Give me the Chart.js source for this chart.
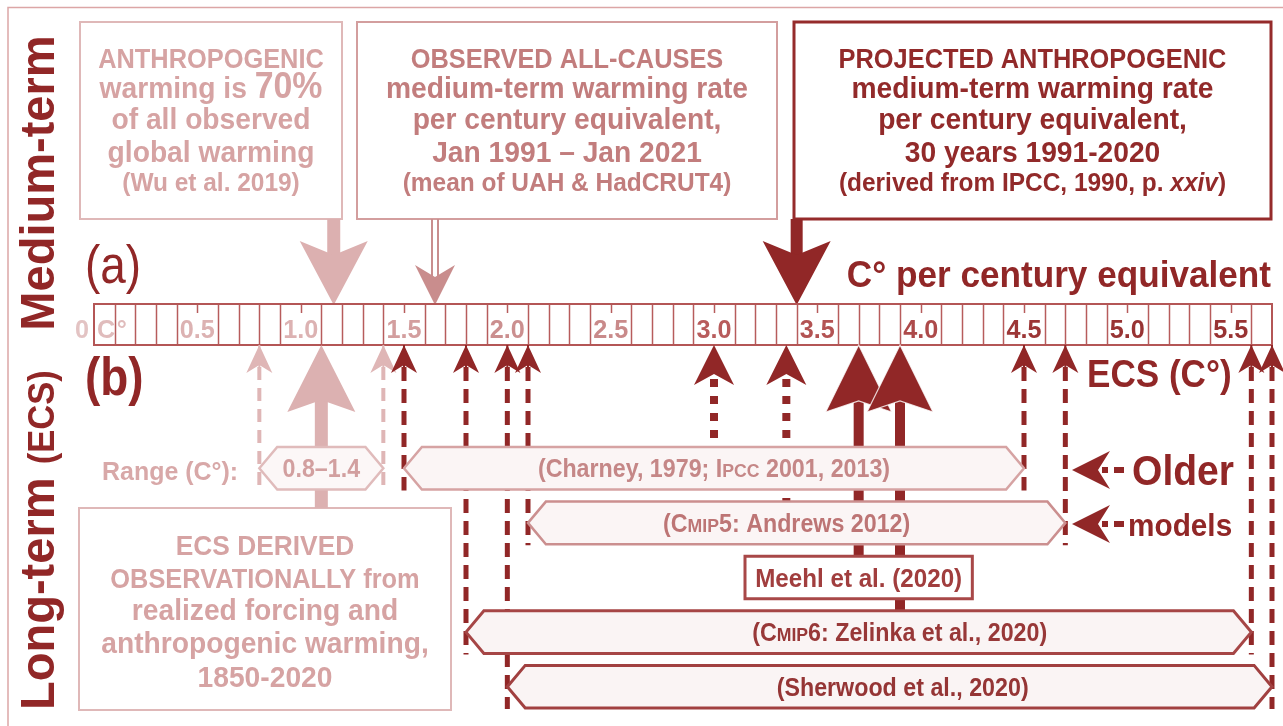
<!DOCTYPE html>
<html>
<head>
<meta charset="utf-8">
<script src="https://cdn.jsdelivr.net/npm/chart.js@4.4.1/dist/chart.umd.min.js"></script>
<style>
  html, body { margin: 0; padding: 0; background: #fff; overflow: hidden; }
  canvas { display: block; }
</style>
</head>
<body>
<canvas id="chart" width="1283" height="726"></canvas>
<script>
// rows of the lower panel (b)
const rows = ['r1', 'r2', 'r3', 'r4', 'r5'];

// ECS ranges (C°)
const rangeLabels = ['0.8–1.4', '(Charney, 1979; IPCC 2001, 2013)', '(CMIP5: Andrews 2012)', 'Meehl et al. (2020)', '(CMIP6: Zelinka et al., 2020)', '(Sherwood et al., 2020)'];
const rangeLow = [0.8, 1.5, 2.1, 3.15, 1.8, 2.0];
const rangeHigh = [1.4, 4.5, 4.7, 4.25, 5.6, 5.7];
const rangeRow = ['r1', 'r1', 'r2', 'r3', 'r4', 'r5'];

// upward arrows under the scale: value, the range they belong to (-1 = observational box), kind
const ecsValues = [0.8, 1.1, 1.4, 1.5, 1.8, 2.0, 2.1, 3.0, 3.35, 3.7, 3.9, 4.5, 4.7, 5.6, 5.7];
const ecsRange = [0, -1, 0, 1, 4, 5, 2, 1, 2, 3, 4, 1, 2, 4, 5];
const ecsKind = ['bound', 'mean', 'bound', 'bound', 'bound', 'bound', 'bound', 'mid', 'mid', 'mean', 'mean', 'bound', 'bound', 'bound', 'bound'];

// medium-term warming rates, C° per century equivalent (panel a)
const rateLabels = ['Anthropogenic (Wu et al. 2019)', 'Observed all-causes', 'Projected (IPCC 1990)'];
const rateValues = [1.16, 1.65, 3.4];

// the ruler
const scaleMax = 5.7;
const tickValues = [0.5, 1.0, 1.5, 2.0, 2.5, 3.0, 3.5, 4.0, 4.5, 5.0, 5.5];
const tickLabels = ['0.5', '1.0', '1.5', '2.0', '2.5', '3.0', '3.5', '4.0', '4.5', '5.0', '5.5'];

// ---- styles / layout ----
const FONT = '"Liberation Sans", Arial, Helvetica, sans-serif';
const DARK = '#912727';
const tickColors = ['#dcb2b2', '#dcb2b2', '#d39e9e', '#cb8f8f', '#c98a8a', '#b85c5c', '#b35353', '#ad4a4a', '#9c3636', '#983333', '#983333'];
const rulerTop = 304, rulerBottom = 345;

const barStyle = [
  { shape: 'hex', stroke: '#e0bbbb', fill: '#fcf7f7', text: '#d29f9f', lw: 2.5, size: 25, shift: 0 },
  { shape: 'hex', stroke: '#d6a3a3', fill: '#fbf5f5', text: '#c58787', lw: 2.5, size: 25, shift: 0 },
  { shape: 'hex', stroke: '#cb8f8f', fill: '#fbf5f5', text: '#bd7575', lw: 2.5, size: 25, shift: -10 },
  { shape: 'rect', stroke: '#a84848', fill: '#ffffff', text: '#a13e3e', lw: 3, size: 26, shift: 0 },
  { shape: 'hex', stroke: '#a64646', fill: '#faf4f4', text: '#983838', lw: 3, size: 25, shift: 41 },
  { shape: 'hex', stroke: '#a14040', fill: '#faf4f4', text: '#953535', lw: 3, size: 25, shift: 13 }
];

const arrowStyle = {
  lightbound: { color: '#dfb6b6', shaft: 4, dash: [13, 8], w: 13, len: 28, notch: 20, start: 22, stem: 2 },
  lightmean: { color: '#dcb1b1', shaft: 13, w: 34, len: 67, notch: 55, start: 50 },
  bound: { color: DARK, shaft: 5, dash: [14, 8], w: 13, len: 28, notch: 20, start: 22, stem: 2 },
  mid: { color: DARK, shaft: 8, dash: [8, 9], w: 20, len: 40, notch: 29, start: 34 },
  mean: { color: DARK, shaft: 10, w: 33, len: 67, notch: 56, start: 50, outline: true }
};

const rateStyle = [
  { color: '#dcb0b0', shaft: 13, w: 34, len: 64, notch: 50 },
  { color: '#c98d8d', double: true, w: 20, len: 40, notch: 28 },
  { color: DARK, shaft: 12, w: 34, len: 64, notch: 50 }
];

const topBoxes = [
  { x0: 80, x1: 342, stroke: '#dfb8b8', lw: 2, color: '#d6a3a3',
    lines: [[['ANTHROPOGENIC', 27]], [['warming is ', 30], ['70%', 36]], [['of all observed', 30]], [['global warming', 30]], [['(Wu et al. 2019)', 26]]] },
  { x0: 357, x1: 777, stroke: '#d39e9e', lw: 2, color: '#c27d7d',
    lines: [[['OBSERVED ALL-CAUSES', 27]], [['medium-term warming rate', 30]], [['per century equivalent,', 30]], [['Jan 1991 – Jan 2021', 30]], [['(mean of UAH & HadCRUT4)', 26]]] },
  { x0: 794, x1: 1271, stroke: '#952b2b', lw: 3, color: '#922a2a',
    lines: [[['PROJECTED ANTHROPOGENIC', 27]], [['medium-term warming rate', 30]], [['per century equivalent,', 30]], [['30 years 1991-2020', 30]], [['(derived from IPCC, 1990, p. ', 26], ['xxiv', 26, 'italic'], [')', 26]]] }
];
const boxTop = 22, boxBottom = 219;
const boxBaselines = [68, 98, 129, 162, 191];

const obsBox = { x0: 79, x1: 451, y0: 508, y1: 710 };
const obsLines = [[['ECS DERIVED', 28]], [['OBSERVATIONALLY from', 27]], [['realized forcing and', 30]], [['anthropogenic warming,', 30]], [['1850-2020', 30]]];
const obsBaselines = [555, 588, 620, 653, 687];

function drawText(c, runs, x, y, o) {
  if (typeof runs === 'string') runs = [[runs]];
  const sq = o.sq || 0.94;
  const fonts = runs.map(r => (r[2] || '') + ' ' + (r[3] || o.weight || 'bold') + ' ' + (r[1] || o.size) + 'px ' + FONT);
  const widths = runs.map((r, i) => { c.font = fonts[i]; return c.measureText(r[0]).width * sq; });
  const total = widths.reduce((a, b) => a + b, 0);
  let cx = o.align === 'left' ? x : o.align === 'right' ? x - total : x - total / 2;
  c.save();
  c.fillStyle = o.color;
  c.textAlign = 'left';
  c.textBaseline = 'alphabetic';
  runs.forEach((r, i) => {
    c.save();
    c.font = fonts[i];
    c.translate(cx, y);
    c.scale(sq, 1);
    c.fillText(r[0], 0, 0);
    c.restore();
    cx += widths[i];
  });
  c.restore();
  return total;
}

// IPCC / CMIP in small caps like the original
function capsRuns(s, size) {
  const out = [];
  s.split(/(IPCC|CMIP)/).forEach(p => {
    if (p === 'IPCC' || p === 'CMIP') {
      out.push([p[0], size]);
      out.push([p.slice(1), Math.round(size * 0.76)]);
    } else if (p) out.push([p, size]);
  });
  return out;
}

function upArrow(c, x, yTip, yEnd, st) {
  c.save();
  c.strokeStyle = st.color;
  c.fillStyle = st.color;
  c.lineCap = 'butt';
  c.lineWidth = st.shaft;
  c.setLineDash(st.dash || []);
  c.beginPath(); c.moveTo(x, yTip + st.start); c.lineTo(x, yEnd); c.stroke();
  c.setLineDash([]);
  if (st.stem) {
    c.lineWidth = st.stem;
    c.beginPath(); c.moveTo(x, yTip); c.lineTo(x, yTip + st.start); c.stroke();
  }
  c.beginPath();
  c.moveTo(x, yTip);
  c.lineTo(x + st.w, yTip + st.len);
  c.lineTo(x, yTip + st.notch);
  c.lineTo(x - st.w, yTip + st.len);
  c.closePath();
  c.fill();
  if (st.outline) { c.strokeStyle = 'rgba(255,255,255,0.8)'; c.lineWidth = 1.2; c.stroke(); }
  c.restore();
}

function downArrow(c, x, yStart, yTip, st) {
  c.save();
  c.strokeStyle = st.color;
  c.fillStyle = st.color;
  if (st.double) {
    c.lineWidth = 2;
    [-3, 3].forEach(d => { c.beginPath(); c.moveTo(x + d, yStart); c.lineTo(x + d, yTip - st.notch + 2); c.stroke(); });
  } else {
    c.fillRect(x - st.shaft / 2, yStart, st.shaft, yTip - st.notch - yStart + 2);
  }
  c.beginPath();
  c.moveTo(x, yTip);
  c.lineTo(x - st.w, yTip - st.len);
  c.lineTo(x, yTip - st.notch);
  c.lineTo(x + st.w, yTip - st.len);
  c.closePath();
  c.fill();
  c.restore();
}

const figurePlugin = {
  id: 'figure',
  beforeDraw(chart) {
    const c = chart.ctx;
    const xs = v => chart.scales.x.getPixelForValue(v);
    c.save();
    c.fillStyle = '#fff';
    c.fillRect(0, 0, chart.width, chart.height);

    // outer frame
    c.strokeStyle = '#dca6a6';
    c.lineWidth = 1.5;
    c.beginPath(); c.moveTo(8, 726); c.lineTo(8, 7.5); c.lineTo(1283, 7.5); c.stroke();

    // vertical titles
    c.save();
    c.translate(54, 183); c.rotate(-Math.PI / 2);
    drawText(c, 'Medium-term', 0, 0, { size: 49, sq: 0.96, color: DARK });
    c.restore();
    c.save();
    c.translate(54, 710); c.rotate(-Math.PI / 2);
    drawText(c, [['Long-term ', 49], ['(ECS)', 36]], 0, 0, { align: 'left', sq: 0.96, color: DARK });
    c.restore();

    drawText(c, '(a)', 85, 283, { size: 54, sq: 0.85, weight: 'normal', color: DARK, align: 'left' });
    drawText(c, '(b)', 85, 395, { size: 54, sq: 0.85, color: DARK, align: 'left' });

    // boxes of panel (a)
    topBoxes.forEach(b => {
      c.strokeStyle = b.stroke;
      c.lineWidth = b.lw;
      c.strokeRect(b.x0, boxTop, b.x1 - b.x0, boxBottom - boxTop);
      b.lines.forEach((ln, i) => drawText(c, ln, (b.x0 + b.x1) / 2, boxBaselines[i], { color: b.color }));
    });

    // arrows from the boxes down to the ruler
    rateValues.forEach((v, i) => downArrow(c, xs(v), boxBottom, rulerTop + 1, rateStyle[i]));

    drawText(c, 'C° per century equivalent', 1271, 287, { size: 37, sq: 0.95, color: DARK, align: 'right' });

    // ruler
    const rl = xs(0), rr = xs(scaleMax);
    c.strokeStyle = '#b75c5c';
    c.lineWidth = 1.5;
    for (let k = 1; k < Math.round(scaleMax * 10); k++) {
      const v = k / 10;
      const px = Math.round(xs(v)) + 0.5;
      const labelled = tickValues.some(t => Math.abs(t - v) < 1e-6);
      c.beginPath();
      c.moveTo(px, rulerTop);
      c.lineTo(px, labelled ? rulerTop + 9 : rulerBottom);
      c.stroke();
    }
    c.lineWidth = 2;
    c.strokeStyle = '#b45656';
    c.strokeRect(rl, rulerTop, rr - rl, rulerBottom - rulerTop);
    tickValues.forEach((v, i) => drawText(c, tickLabels[i], xs(v), 338, { size: 26, sq: 0.97, color: tickColors[i] }));
    drawText(c, '0', rl - 5, 338, { size: 26, sq: 0.97, color: '#e3c3c3', align: 'right' });
    drawText(c, 'C', rl + 3, 338, { size: 26, sq: 0.97, color: '#e0bcbc', align: 'left' });
    drawText(c, '°', xs(0.1) + 2, 338, { size: 26, sq: 0.97, color: '#e0bcbc', align: 'left' });

    drawText(c, 'ECS (C°)', 1087, 387, { size: 39, sq: 0.9, color: DARK, align: 'left' });
    drawText(c, 'Range (C°):', 102, 480, { size: 26, sq: 0.96, color: '#d8a8a8', align: 'left' });

    // observational ECS box
    c.strokeStyle = '#dfb8b8';
    c.lineWidth = 2;
    c.strokeRect(obsBox.x0, obsBox.y0, obsBox.x1 - obsBox.x0, obsBox.y1 - obsBox.y0);
    obsLines.forEach((ln, i) => drawText(c, ln, (obsBox.x0 + obsBox.x1) / 2, obsBaselines[i], { color: '#d6a3a3' }));
    c.restore();
  },
  beforeDatasetsDraw(chart) {
    const c = chart.ctx;
    const xs = v => chart.scales.x.getPixelForValue(v);
    const bars = chart.getDatasetMeta(0).data;
    ecsValues.forEach((v, i) => {
      const r = ecsRange[i];
      const st = arrowStyle[(r <= 0 ? 'light' : '') + ecsKind[i]];
      let yEnd = obsBox.y0;
      if (r >= 0) {
        const b = bars[r].getProps(['y', 'height'], true);
        yEnd = ecsKind[i] === 'bound' ? b.y + b.height / 2 + 1 : b.y - b.height / 2;
      }
      upArrow(c, xs(v), rulerBottom, yEnd, st);
    });
  },
  afterDatasetsDraw(chart) {
    const c = chart.ctx;
    const bars = chart.getDatasetMeta(0).data;
    c.save();
    bars.forEach((el, i) => {
      const p = el.getProps(['x', 'y', 'base', 'height'], true);
      const st = barStyle[i];
      const x0 = Math.min(p.x, p.base), x1 = Math.max(p.x, p.base);
      const t = p.y - p.height / 2, b = p.y + p.height / 2;
      const ins = p.height * 0.42;
      c.beginPath();
      if (st.shape === 'hex') {
        c.moveTo(x0, p.y);
        c.lineTo(x0 + ins, t);
        c.lineTo(x1 - ins, t);
        c.lineTo(x1, p.y);
        c.lineTo(x1 - ins, b);
        c.lineTo(x0 + ins, b);
        c.closePath();
      } else {
        c.rect(x0, t, x1 - x0, b - t);
      }
      c.fillStyle = st.fill;
      c.fill();
      c.strokeStyle = st.stroke;
      c.lineWidth = st.lw;
      c.lineJoin = 'miter';
      c.stroke();
      drawText(c, capsRuns(rangeLabels[i], st.size), (x0 + x1) / 2 + st.shift, p.y + 9, { color: st.text, sq: 0.93 });
    });

    // "Older models" pointers
    [[470, 'Older', 42, 1132], [524, 'models', 32, 1128]].forEach(([y, label, size, tx]) => {
      c.fillStyle = DARK;
      c.beginPath();
      c.moveTo(1072, y);
      c.lineTo(1110, y - 19);
      c.lineTo(1098, y);
      c.lineTo(1110, y + 19);
      c.closePath();
      c.fill();
      c.fillRect(1102, y - 3, 6, 6);
      c.fillRect(1114, y - 3, 10, 6);
      drawText(c, label, tx, y + size * 0.36, { size: size, sq: 0.93, color: DARK, align: 'left' });
    });
    c.restore();
  }
};

const ctx = document.getElementById('chart').getContext('2d');
const chart = new Chart(ctx, {
  type: 'bar',
  data: {
    labels: rows,
    datasets: [{
      label: 'ECS ranges',
      data: rangeLow.map((lo, i) => ({ x: [lo, rangeHigh[i]], y: rangeRow[i] })),
      backgroundColor: 'rgba(0,0,0,0)',
      borderWidth: 0,
      barPercentage: 0.78,
      categoryPercentage: 1
    }]
  },
  options: {
    indexAxis: 'y',
    responsive: false,
    animation: false,
    layout: { padding: { left: 94, right: 11, top: 441, bottom: 12 } },
    scales: {
      x: { type: 'linear', min: 0, max: scaleMax, display: false },
      y: { type: 'category', display: false }
    },
    plugins: {
      legend: { display: false },
      tooltip: { enabled: false }
    }
  },
  plugins: [figurePlugin]
});
</script>
</body>
</html>
